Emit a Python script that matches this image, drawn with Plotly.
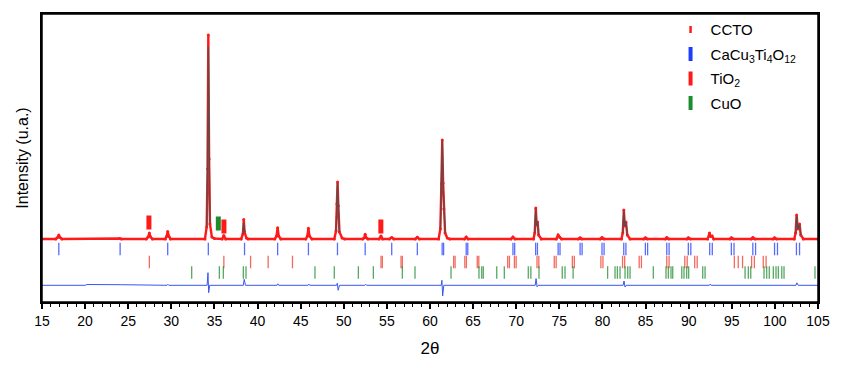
import plotly.graph_objects as go

# ---------------- data ----------------
# observed pattern (2theta, intensity above baseline)
two_theta_obs = [15.0, 16.6, 16.8, 16.95, 17.1, 17.3, 24.0, 24.2,
                 27.1, 27.3, 27.45, 27.6, 27.8, 29.3, 29.45, 29.58, 29.72, 29.9,
                 33.9, 34.1, 34.2, 34.29, 34.38, 34.48, 34.7, 35.0, 35.9, 36.09, 36.3,
                 38.1, 38.3, 38.40, 38.5, 38.7, 38.9, 42.0, 42.2, 42.33, 42.45, 42.7,
                 45.6, 45.78, 45.9, 46.02, 46.3, 48.9, 49.1, 49.2, 49.28, 49.37, 49.5, 49.8, 50.1,
                 52.2, 52.38, 52.48, 52.6, 52.8, 54.1, 54.32, 54.5, 55.3, 55.56, 55.8,
                 58.3, 58.53, 58.75, 61.0, 61.2, 61.32, 61.42, 61.52, 61.6, 61.75, 62.0, 62.3,
                 64.0, 64.2, 64.4, 69.4, 69.62, 69.85, 72.0, 72.15, 72.27, 72.37, 72.48, 72.6, 72.9,
                 74.65, 74.86, 75.05, 75.25, 77.2, 77.41, 77.6, 79.75, 79.95, 80.2,
                 82.2, 82.36, 82.48, 82.6, 82.73, 82.88, 83.2, 84.8, 84.98, 85.2,
                 87.3, 87.46, 87.7, 89.8, 89.96, 90.2, 92.2, 92.42, 92.55, 92.72, 92.9,
                 94.8, 94.95, 95.2, 97.25, 97.44, 97.7, 99.8, 99.96, 100.2,
                 102.25, 102.4, 102.52, 102.66, 102.86, 103.0, 103.3, 105.0]
intensity_obs = [0, 0, 15, 40, 15, 0, 5, 0,
                 0, 20, 60, 20, 0, 0, 25, 75, 25, 0,
                 0, 120, 700, 2040, 800, 150, 20, 5, 0, 35, 0,
                 0, 50, 195, 70, 10, 0, 0, 30, 113, 30, 0,
                 0, 30, 107, 30, 0, 0, 80, 350, 570, 330, 70, 10, 0,
                 0, 12, 47, 12, 0, 0, 30, 0, 0, 15, 0,
                 0, 18, 0, 0, 100, 550, 990, 560, 300, 60, 10, 0,
                 0, 20, 0, 0, 20, 0, 0, 60, 310, 140, 170, 40, 0,
                 0, 40, 15, 0, 0, 12, 0, 0, 15, 0,
                 0, 60, 290, 130, 170, 40, 0, 0, 12, 0,
                 0, 15, 0, 0, 12, 0, 0, 60, 25, 30, 0,
                 0, 12, 0, 0, 15, 0, 0, 12, 0,
                 0, 60, 240, 100, 150, 40, 0, 0]

# calculated profile at the main reflections (None separates segments)
two_theta_calc = [34.1, 34.2, 34.29, 34.38, 34.48, None,
                  38.3, 38.4, 38.5, None,
                  49.1, 49.2, 49.28, 49.37, 49.5, None,
                  61.2, 61.32, 61.42, 61.52, 61.6, 61.75, None,
                  72.15, 72.27, 72.37, 72.48, 72.6, None,
                  82.36, 82.48, 82.6, 82.73, 82.88, None,
                  102.4, 102.52, 102.66, 102.86, 103.0]
intensity_calc = [120, 680, 1920, 790, 150, None,
                  50, 165, 70, None,
                  80, 350, 560, 330, 70, None,
                  100, 540, 985, 560, 300, 60, None,
                  60, 300, 140, 165, 40, None,
                  60, 280, 130, 165, 40, None,
                  60, 230, 100, 145, 40]

# difference curve (obs - calc)
two_theta_diff = [15.0, 20.0, 20.2, 24.0, 24.2, 29.5, 29.6, 29.7,
                  34.15, 34.25, 34.33, 34.45, 34.6,
                  38.35, 38.45, 38.6, 42.25, 42.35, 42.45, 45.85, 45.95, 46.05,
                  49.15, 49.25, 49.35, 49.5, 52.45, 52.55, 52.65, 56.0, 56.2,
                  61.3, 61.38, 61.47, 61.6, 66.0, 66.2,
                  72.2, 72.3, 72.42, 72.55, 77.0, 77.2, 82.4, 82.5, 82.62, 82.75,
                  92.4, 92.5, 92.6, 102.45, 102.55, 102.7, 105.0]
intensity_diff = [0, 0, 8, 0, 6, 0, 10, 0,
                  0, 126, -74, 0, 0,
                  0, 60, 0, 0, 15, 0, 0, 12, 0,
                  0, 20, -50, 0, 0, 10, 0, 0, 6,
                  0, 50, -107, 0, 0, 6,
                  0, 67, -15, 0, 0, 6, 0, 43, -17, 0,
                  0, 12, 0, 0, 25, 0, 0]

# reflection positions
cct_ticks = [16.95, 24.06, 29.58, 34.29, 38.49, 42.33, 45.90, 49.27, 52.48, 55.56,
             58.53, 61.41, 61.58, 64.20, 64.38, 69.62, 69.82, 72.25, 72.46, 74.86, 75.08,
             77.41, 77.64, 79.95, 80.19, 82.47, 82.72, 84.98, 85.24, 87.46, 87.73,
             89.96, 90.25, 92.44, 92.74, 94.95, 95.26, 97.44, 97.76, 99.96, 100.30,
             102.50, 102.86]
tio2_ticks = [27.45, 36.09, 39.19, 41.23, 44.05, 54.32, 54.47, 56.64, 56.79,
              62.74, 62.91, 64.04, 64.22, 65.48, 65.66, 69.01, 69.21, 69.79, 69.99,
              72.41, 72.62, 74.41, 74.63, 76.51, 76.74, 79.82, 80.06, 82.33, 82.58,
              84.26, 84.52, 87.46, 87.73, 89.55, 89.83, 90.70, 90.99,
              95.30, 95.75, 96.25, 97.30, 97.62, 98.65, 98.98]
cuo_ticks = [32.36, 35.57, 36.03, 38.35, 38.66, 46.66, 48.90, 51.69, 53.43, 56.79,
             58.26, 62.44, 65.68, 66.00, 66.18, 67.74, 68.62, 71.40, 71.70, 72.64,
             75.34, 75.66, 76.60, 80.60, 81.46, 81.73, 82.04, 82.62, 82.93, 83.20,
             85.90, 87.37, 87.64, 87.95, 88.15, 89.20, 89.46, 89.77, 90.00,
             91.63, 91.90, 96.54, 96.92, 97.20, 98.74, 99.05, 99.35, 99.82, 100.13,
             100.40, 100.80, 101.06, 104.65]

# impurity peak markers above the pattern
tio2_mark_x = [27.4, 36.1, 54.3]
tio2_mark_y = [165, 125, 125]
cuo_mark_x = [35.45]
cuo_mark_y = [155]

# vertical offsets of the tick rows and difference curve
row_cct = -100
row_tio2 = -230
row_cuo = -335
diff_offset = -463

x_ticks = list(range(15, 106, 5))
legend_names = ["CCTO", "CaCu<sub>3</sub>Ti<sub>4</sub>O<sub>12</sub>", "TiO<sub>2</sub>", "CuO"]

# ---------------- figure ----------------
RED = "#ff1a1a"
BLUE = "#1f3dff"
GREEN = "#1e8c2e"
FONT = "Liberation Sans, Arial, sans-serif"

fig = go.Figure()

fig.add_trace(go.Scatter(x=two_theta_obs, y=intensity_obs, mode="lines+markers",
                         line=dict(color=RED, width=2.4),
                         marker=dict(color=RED, size=3), showlegend=False))
fig.add_trace(go.Scatter(x=two_theta_calc, y=intensity_calc, mode="lines",
                         line=dict(color="#505050", width=1.2), connectgaps=False,
                         showlegend=False))
fig.add_trace(go.Scatter(x=two_theta_diff, y=[v + diff_offset for v in intensity_diff],
                         mode="lines", line=dict(color="#3a57f0", width=1),
                         showlegend=False))

def tick_row(xs, yrow, color):
    return go.Scatter(x=xs, y=[yrow] * len(xs), mode="markers",
                      marker=dict(symbol="line-ns", size=9,
                                  line=dict(color=color, width=1.3)),
                      opacity=0.75, showlegend=False, hoverinfo="x")

fig.add_trace(tick_row(cct_ticks, row_cct, BLUE))
fig.add_trace(tick_row(tio2_ticks, row_tio2, "#f03a2a"))
fig.add_trace(tick_row(cuo_ticks, row_cuo, GREEN))

fig.add_trace(go.Scatter(x=tio2_mark_x, y=tio2_mark_y, mode="markers",
                         marker=dict(symbol="line-ns", size=10, line=dict(color=RED, width=5)),
                         showlegend=False))
fig.add_trace(go.Scatter(x=cuo_mark_x, y=cuo_mark_y, mode="markers",
                         marker=dict(symbol="line-ns", size=10, line=dict(color=GREEN, width=5)),
                         showlegend=False))

# legend entries
legend_colors = [RED, BLUE, RED, GREEN]
legend_sizes = [5, 10, 10, 10]
legend_widths = [2.5, 4, 4, 4]
for name, col, sz, wd in zip(legend_names, legend_colors, legend_sizes, legend_widths):
    fig.add_trace(go.Scatter(x=[None], y=[None], mode="markers", name=name, legendgroup=name,
                             marker=dict(symbol="line-ns", size=sz, line=dict(color=col, width=wd))))

# plot frame
fig.add_shape(type="rect", xref="paper", yref="paper", x0=0, x1=1, y0=0, y1=1,
              line=dict(color="black", width=1.5), layer="above")

fig.update_layout(
    width=861, height=368,
    margin=dict(l=42, r=43, t=14, b=66),
    paper_bgcolor="white", plot_bgcolor="white",
    font=dict(family=FONT, size=14, color="black"),
    legend=dict(x=0.81, y=1.003, xanchor="left", yanchor="top",
                bgcolor="rgba(0,0,0,0)", font=dict(size=15), tracegroupgap=2),
    xaxis=dict(range=[15, 105], tickvals=x_ticks, ticktext=[str(v) for v in x_ticks],
               ticks="outside", ticklen=5, tickwidth=1.5, tickcolor="black",
               minor=dict(dtick=1, ticks="outside", ticklen=3, tickwidth=1.2, tickcolor="black"),
               showline=True, linecolor="black", linewidth=1.5, mirror=True,
               showgrid=False, zeroline=False,
               title=dict(text="2θ", font=dict(size=17), standoff=15),
               tickfont=dict(size=14)),
    yaxis=dict(range=[-630, 2250], showticklabels=False, ticks="",
               showline=True, linecolor="black", linewidth=1.5, mirror=True,
               showgrid=False, zeroline=False,
               title=dict(text="Intensity (u.a.)", font=dict(size=16), standoff=8)),
)

fig.write_html("out.html", config={"displayModeBar": False},
               post_script="document.body.style.margin='0';")
